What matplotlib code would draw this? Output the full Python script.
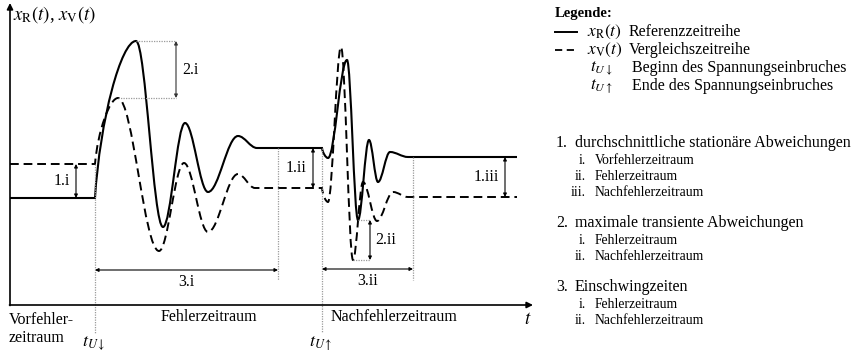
import matplotlib
matplotlib.use("Agg")
import matplotlib.pyplot as plt
from matplotlib.path import Path
from matplotlib.patches import PathPatch

plt.rcParams["font.family"] = ["Liberation Serif", "DejaVu Serif"]
plt.rcParams["mathtext.fontset"] = "stix"

# turning points of the two time series (t, x)
ref_t = [0, 85, 126, 153, 175, 198, 228, 247, 312, 318, 337, 348, 359, 368, 380, 398, 507]
ref_x = [107, 107, 264, 78, 182, 113, 169, 157, 157, 147, 245, 85, 165, 123, 153, 148, 148]
cmp_t = [0, 85, 108, 149, 174, 198, 228, 245, 312, 318, 331, 343, 353, 367, 383, 398, 507]
cmp_x = [141, 141, 207, 54, 142, 73, 131, 117, 117, 103, 258, 45, 123, 84, 113, 108, 108]

t_fault = 85      # Beginn des Spannungseinbruches
t_clear = 312     # Ende des Spannungseinbruches
t_settle_fault = 268
t_settle_post = 403

period_labels = ["Vorfehler-\nzeitraum", "Fehlerzeitraum", "Nachfehlerzeitraum"]
legend_entries = ["Referenzzeitreihe", "Vergleichszeitreihe",
                  "Beginn des Spannungseinbruches", "Ende des Spannungseinbruches"]
criteria = [
    ("1.", "durchschnittliche stationäre Abweichungen",
     ["Vorfehlerzeitraum", "Fehlerzeitraum", "Nachfehlerzeitraum"]),
    ("2.", "maximale transiente Abweichungen",
     ["Fehlerzeitraum", "Nachfehlerzeitraum"]),
    ("3.", "Einschwingzeiten",
     ["Fehlerzeitraum", "Nachfehlerzeitraum"]),
]
roman = ["i.", "ii.", "iii."]


def smooth_path(ts, xs, k=0.36):
    """Bezier path through turning points with horizontal tangents."""
    verts = [(ts[0], xs[0])]
    codes = [Path.MOVETO]
    prev_flat = False
    for i in range(len(ts) - 1):
        t0, x0, t1, x1 = ts[i], xs[i], ts[i + 1], xs[i + 1]
        dt, dx = t1 - t0, x1 - x0
        if dx == 0:
            verts.append((t1, x1))
            codes.append(Path.LINETO)
            prev_flat = True
            continue
        if prev_flat:
            c1 = (t0 + 0.12 * dt, x0 + 0.5 * dx)
        else:
            c1 = (t0 + k * dt, x0)
        c2 = (t1 - k * dt, x1)
        verts += [c1, c2, (t1, x1)]
        codes += [Path.CURVE4] * 3
        prev_flat = False
    return Path(verts, codes)


fig = plt.figure(figsize=(8.56, 3.55), dpi=100)
ax = fig.add_axes([0, 0, 1, 1])
ax.set_xlim(-10, 846)
ax.set_ylim(-50, 305)
ax.axis("off")

# coordinate axes
ax.annotate("", xy=(523, 0), xytext=(-0.5, 0),
            arrowprops=dict(arrowstyle="-|>", color="black", lw=1.2,
                            mutation_scale=9, shrinkA=0, shrinkB=0))
ax.annotate("", xy=(0, 302), xytext=(0, -0.5),
            arrowprops=dict(arrowstyle="-|>", color="black", lw=1.2,
                            mutation_scale=9, shrinkA=0, shrinkB=0))

# curves
ax.add_patch(PathPatch(smooth_path(ref_t, ref_x), fill=False, color="black", lw=1.5))
ax.add_patch(PathPatch(smooth_path(cmp_t, cmp_x), fill=False, color="black", lw=1.4,
                       linestyle=(0, (4.5, 2.5))))

dot = dict(color="#9a9a9a", lw=0.9, linestyle=(0, (1, 1)))
ax.plot([t_fault, t_fault], [cmp_x[1], -28], **dot)
ax.plot([t_clear, t_clear], [ref_x[8], -28], **dot)
ax.plot([t_settle_fault, t_settle_fault], [ref_x[7], 25], **dot)
ax.plot([t_settle_post, t_settle_post], [ref_x[-1], 25], **dot)


def dim(p0, p1, color="black"):
    ax.annotate("", xy=p1, xytext=p0,
                arrowprops=dict(arrowstyle="<|-|>", color=color, lw=0.8,
                                mutation_scale=5, shrinkA=0, shrinkB=0))


fs = 11.5
ms = 13

# 1.: stationary deviations
dim((66, cmp_x[0]), (66, ref_x[0]))
ax.text(60, (cmp_x[0] + ref_x[0]) / 2, "1.i", ha="right", va="center", fontsize=fs)
dim((303, ref_x[7]), (303, cmp_x[7]))
ax.text(297, (ref_x[7] + cmp_x[7]) / 2, "1.ii", ha="right", va="center", fontsize=fs)
dim((495, ref_x[-1]), (495, cmp_x[-1]))
ax.text(489, (ref_x[-1] + cmp_x[-1]) / 2, "1.iii", ha="right", va="center", fontsize=fs)

# 2.: transient peaks
pk_r, pk_c = max(ref_x[2:8]), max(cmp_x[2:8])
ax.plot([ref_t[2], 166], [pk_r, pk_r], **dot)
ax.plot([cmp_t[2], 166], [pk_c, pk_c], **dot)
dim((166, pk_r), (166, pk_c), color="#333333")
ax.text(172, (pk_r + pk_c) / 2, "2.i", ha="left", va="center", fontsize=fs)

lo_r, lo_c = min(ref_x[9:]), min(cmp_x[9:])
ax.plot([ref_t[11], 360], [lo_r, lo_r], **dot)
ax.plot([cmp_t[11], 360], [lo_c, lo_c], **dot)
dim((360, lo_r), (360, lo_c))
ax.text(365, (lo_r + lo_c) / 2, "2.ii", ha="left", va="center", fontsize=fs)

# 3.: settling times
dim((t_fault, 35), (t_settle_fault, 35))
ax.text((t_fault + t_settle_fault) / 2, 23, "3.i", ha="center", va="center", fontsize=fs)
dim((t_clear, 36), (t_settle_post, 36))
ax.text((t_clear + t_settle_post) / 2, 24, "3.ii", ha="center", va="center", fontsize=fs)

# axis labels and periods
ax.text(3, 290, r"$x_\mathrm{R}(t)$, $x_\mathrm{V}(t)$", ha="left", va="center", fontsize=13.5)
ax.text(518, -15, r"$t$", ha="center", va="center", fontsize=13.5)
ax.text(-1, -24, period_labels[0], ha="left", va="center", fontsize=fs, linespacing=1.15)
ax.text(199, -12, period_labels[1], ha="center", va="center", fontsize=fs)
ax.text(384, -12, period_labels[2], ha="center", va="center", fontsize=fs)
ax.text(t_fault - 1, -39, r"$t_{U\downarrow}$", ha="center", va="center", fontsize=ms)
ax.text(t_clear - 1, -39, r"$t_{U\uparrow}$", ha="center", va="center", fontsize=ms)

# legend
ax.text(545, 292, "Legende:", ha="left", va="center", fontsize=10.5, fontweight="bold")
ax.plot([545, 567], [273, 273], color="black", lw=1.4)
ax.plot([545, 568], [255, 255], color="black", lw=1.3, linestyle=(0, (4, 2.5)))
symbols = [r"$x_\mathrm{R}(t)$", r"$x_\mathrm{V}(t)$", r"$t_{U\downarrow}$", r"$t_{U\uparrow}$"]
rows_y = [273, 255, 237, 219]
sym_x = [577, 577, 580, 580]
txt_x = [619, 619, 622, 622]
for s, label, y, sx, tx in zip(symbols, legend_entries, rows_y, sym_x, txt_x):
    ax.text(sx, y, s, ha="left", va="center", fontsize=12.5)
    ax.text(tx, y, label, ha="left", va="center", fontsize=fs)

# list of criteria
y = 162
for num, title, subs in criteria:
    ax.text(558, y, num, ha="right", va="center", fontsize=fs)
    ax.text(565, y, title, ha="left", va="center", fontsize=fs)
    y -= 18
    for r, s in zip(roman, subs):
        ax.text(576, y, r, ha="right", va="center", fontsize=9.8)
        ax.text(585, y, s, ha="left", va="center", fontsize=9.8)
        y -= 16
    y -= 14

fig.savefig("out.png", dpi=100)
